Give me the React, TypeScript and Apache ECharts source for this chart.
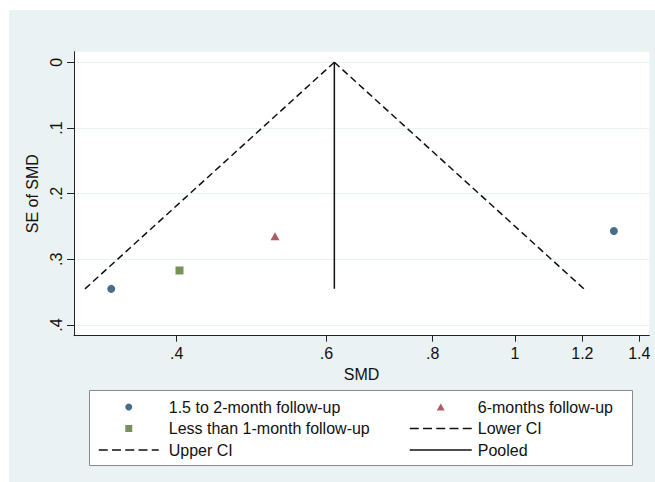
import React, { useEffect, useRef } from "react";
import * as echarts from "echarts";

// ---- data (SMD on a log axis, SE of SMD) ----
const xTicks = [0.4, 0.6, 0.8, 1, 1.2, 1.4];
const xTickLabels = [".4", ".6", ".8", "1", "1.2", "1.4"];
const yTicks = [0, 0.1, 0.2, 0.3, 0.4];
const yTickLabels = ["0", ".1", ".2", ".3", ".4"];

const smd15to2 = [0.335, 1.307];
const se15to2 = [0.345, 0.257];
const smd6m = [0.522];
const se6m = [0.265];
const smdLt1 = [0.403];
const seLt1 = [0.317];

const pooledSMD = [0.613, 0.613];
const pooledSE = [0, 0.345];
const lowerSMD = [0.613, 0.312];
const lowerSE = [0, 0.345];
const upperSMD = [0.613, 1.205];
const upperSE = [0, 0.345];

const xMinLn = -1.1945;
const xMaxLn = 0.3636;
const yMin = -0.0161;
const yMax = 0.4163;

const FONT = "Liberation Sans";
const pts = (xs: number[], ys: number[]) => xs.map((x, i) => [Math.log(x), ys[i]]);

export default function App() {
  const ref = useRef<HTMLDivElement>(null);
  useEffect(() => {
    document.body.style.margin = "0";
    if (!ref.current) return;
    const chart = echarts.init(ref.current, undefined, { renderer: "svg" });
    const txt = { fontFamily: FONT, fontSize: 16, color: "#111" };
    const dashLegend = { type: [9, 4.25], width: 1.5, color: "#111" };
    const solidLegend = { type: "solid", width: 1.5, color: "#111" };
    const noSymbol = { color: "rgba(0,0,0,0)", opacity: 0, borderWidth: 0 };
    chart.setOption({
      animation: false,
      backgroundColor: "transparent",
      graphic: [
        {
          type: "rect",
          z: -10,
          silent: true,
          shape: { x: 9, y: 10, width: 646, height: 472 },
          style: { fill: "#EAF2F3" },
        },
        {
          type: "rect",
          z: 2,
          silent: true,
          shape: { x: 89.5, y: 390.5, width: 543, height: 75 },
          style: { fill: "#ffffff", stroke: "#8a8a8a", lineWidth: 1 },
        },
      ],
      grid: {
        left: 74,
        top: 51.7,
        right: 5.7,
        bottom: 146.3,
        show: true,
        backgroundColor: "#ffffff",
        borderWidth: 0,
        containLabel: false,
      },
      xAxis: {
        type: "value",
        min: xMinLn,
        max: xMaxLn,
        name: "SMD",
        nameLocation: "middle",
        nameGap: 25,
        nameTextStyle: txt,
        axisLine: { show: true, onZero: false, lineStyle: { color: "#222", width: 1 } },
        axisTick: {
          show: true,
          length: 6,
          lineStyle: { color: "#222" },
          customValues: xTicks.map((t) => Math.log(t)),
        },
        axisLabel: {
          ...txt,
          margin: 10,
          customValues: xTicks.map((t) => Math.log(t)),
          formatter: (v: number) => {
            const i = xTicks.findIndex((t) => Math.abs(Math.log(t) - v) < 1e-6);
            return i >= 0 ? xTickLabels[i] : "";
          },
        },
        splitLine: { show: false },
      },
      yAxis: {
        type: "value",
        inverse: true,
        min: yMin,
        max: yMax,
        name: "SE of SMD",
        nameLocation: "middle",
        nameGap: 32,
        nameRotate: 90,
        nameTextStyle: txt,
        axisLine: { show: true, onZero: false, lineStyle: { color: "#222", width: 1 } },
        axisTick: {
          show: true,
          length: 7,
          lineStyle: { color: "#222" },
          customValues: yTicks,
        },
        axisLabel: {
          ...txt,
          rotate: 90,
          margin: 10,
          customValues: yTicks,
          formatter: (v: number) => {
            const i = yTicks.findIndex((t) => Math.abs(t - v) < 1e-9);
            return i >= 0 ? yTickLabels[i] : "";
          },
        },
        splitLine: { show: true, lineStyle: { color: "#EAF2F3", width: 1 } },
      },
      legend: [
        {
          orient: "vertical",
          left: 98,
          top: 399,
          padding: 0,
          itemWidth: 60,
          itemHeight: 7,
          itemGap: 5.5,
          symbolKeepAspect: true,
          selectedMode: false,
          textStyle: { ...txt, padding: [0, 0, 0, 5] },
          data: [
            { name: "1.5 to 2-month follow-up", icon: "circle" },
            { name: "Less than 1-month follow-up", icon: "path://M0,0L7,0L7,7L0,7Z" },
            { name: "Upper CI", lineStyle: dashLegend, itemStyle: noSymbol },
          ],
        },
        {
          orient: "vertical",
          left: 409,
          top: 399,
          padding: 0,
          itemWidth: 62,
          itemHeight: 7,
          itemGap: 5.5,
          symbolKeepAspect: true,
          selectedMode: false,
          textStyle: { ...txt, padding: [0, 0, 0, 1] },
          data: [
            { name: "6-months follow-up", icon: "path://M4,0L8,7L0,7Z" },
            { name: "Lower CI", lineStyle: dashLegend, itemStyle: noSymbol },
            { name: "Pooled", lineStyle: solidLegend, itemStyle: noSymbol },
          ],
        },
      ],
      series: [
        {
          name: "1.5 to 2-month follow-up",
          type: "scatter",
          symbol: "circle",
          symbolSize: 8,
          itemStyle: { color: "#1A476F" },
          data: pts(smd15to2, se15to2),
          z: 5,
        },
        {
          name: "6-months follow-up",
          type: "scatter",
          symbol: "triangle",
          symbolSize: [9, 8],
          itemStyle: { color: "#9A3540" },
          data: pts(smd6m, se6m),
          z: 5,
        },
        {
          name: "Less than 1-month follow-up",
          type: "scatter",
          symbol: "rect",
          symbolSize: 8,
          itemStyle: { color: "#55752F" },
          data: pts(smdLt1, seLt1),
          z: 5,
        },
        {
          name: "Lower CI",
          type: "line",
          symbol: "none",
          itemStyle: { color: "#111" },
          lineStyle: { color: "#111", width: 1.5, type: [7, 4] },
          data: pts(lowerSMD, lowerSE),
        },
        {
          name: "Upper CI",
          type: "line",
          symbol: "none",
          itemStyle: { color: "#111" },
          lineStyle: { color: "#111", width: 1.5, type: [7, 4] },
          data: pts(upperSMD, upperSE),
        },
        {
          name: "Pooled",
          type: "line",
          symbol: "none",
          itemStyle: { color: "#111" },
          lineStyle: { color: "#111", width: 1.5, type: "solid" },
          data: pts(pooledSMD, pooledSE),
        },
      ],
    });
    return () => chart.dispose();
  }, []);
  return <div ref={ref} style={{ width: 655, height: 482, background: "#ffffff" }} />;
}
